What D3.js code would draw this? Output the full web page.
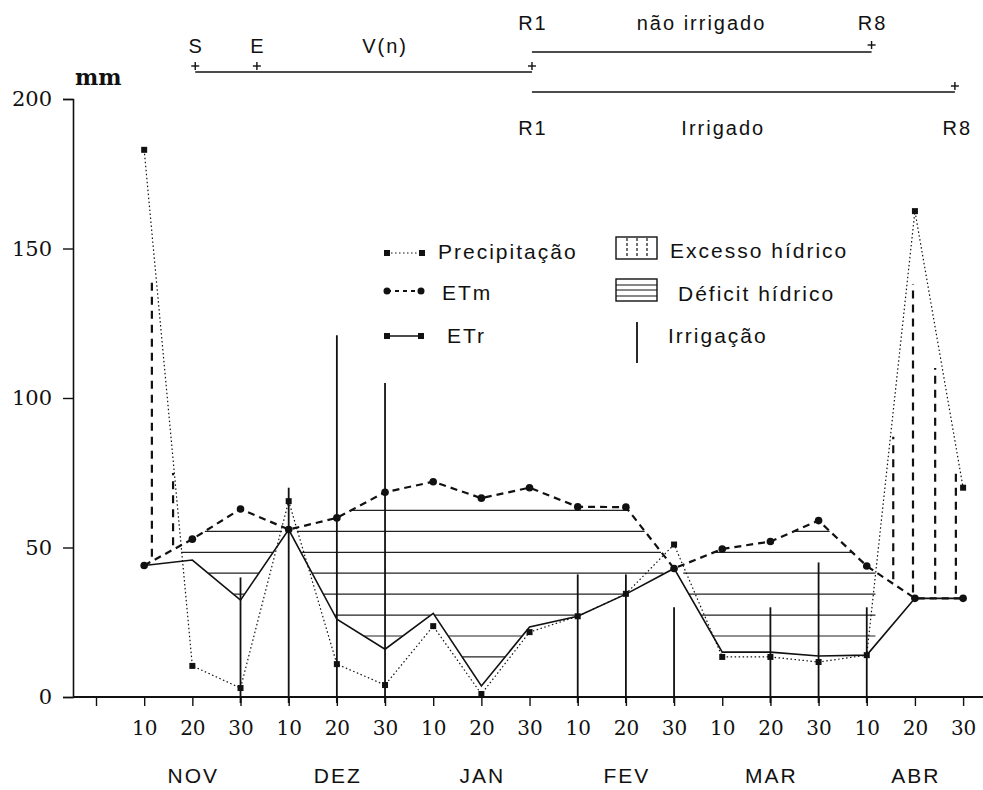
<!DOCTYPE html>
<html>
<head>
<meta charset="utf-8">
<script src="https://cdn.jsdelivr.net/npm/d3@7"></script>
<style>
  body { margin: 0; background: #fff; }
  svg { display: block; }
  .sans { font-family: "Liberation Sans", Arial, sans-serif; letter-spacing: 2px; fill: #111; }
</style>
</head>
<body>
<div id="chart"></div>
<script>
// decendial periods (index 1..18)
const dekadLabels = ["10","20","30","10","20","30","10","20","30","10","20","30","10","20","30","10","20","30"];
const months = ["NOV","DEZ","JAN","FEV","MAR","ABR"];

// mm per decendio
const precipitacao = [183, 10.4, 3, 65.5, 11, 4, 23.7, 1, 21.7, 27, 34.5, 51, 13.4, 13.4, 11.7, 14, 162.5, 70];
const etm = [44, 52.8, 62.9, 56, 59.9, 68.5, 72, 66.5, 70, 63.6, 63.5, 43, 49.5, 52, 59, 43.8, 33, 33];
const etr = [44, 45.8, 32.4, 56, 26, 16, 28, 3.7, 23.4, 27, 34.4, 43, 15, 15, 13.7, 14, 33, 33];

// irrigation depths (dekad index, mm)
const irrigDekad = [3, 4, 5, 6, 10, 11, 12, 14, 15, 16];
const irrigMm = [40, 70, 121, 105, 41, 41, 30, 30, 45, 30];

// hatch positions
const excessoAt = [1.16, 1.6, 16.55, 16.96, 17.42, 17.85];
const deficitLevels = [13.4, 20.4, 27.4, 34.4, 41.4, 48.4, 55.4, 62.4];

const yTicks = [0, 50, 100, 150, 200];

// phenology (dekad index)
const vegMarks = ["S", "E"];
const vegMarkAt = [2.06, 3.34];
const r1At = 9.05;
const r8NaoIrrigadoAt = 16.1;
const r8IrrigadoAt = 17.83;
const vnLabelAt = 5.98;
const naoIrrigadoLabelAt = 12.55;
const irrigadoLabelAt = 13.0;

const width = 983, height = 790;
const ink = "#111";

const svg = d3.select("#chart").append("svg")
  .attr("width", width).attr("height", height);

const x = d3.scaleLinear().domain([0, 18]).range([96, 963.1]);
const y = d3.scaleLinear().domain([0, 200]).range([697, 99]);

function interp(arr, t) {
  const i = Math.max(0, Math.min(arr.length - 2, Math.floor(t - 1)));
  const f = (t - 1) - i;
  return arr[i] + (arr[i + 1] - arr[i]) * f;
}

// ---- deficit hatch (horizontal lines between ETr and ETm)
let segs = [];
deficitLevels.forEach(L => {
  let start = null;
  const n = 1700;
  for (let k = 0; k <= n; k++) {
    const t = 1 + k * 0.01;
    const ok = interp(etr, t) < L && L < interp(etm, t) && interp(precipitacao, t) < interp(etm, t);
    if (ok && start === null) start = t;
    if ((!ok || k === n) && start !== null) {
      segs.push({L: L, t0: start, t1: ok ? t : t - 0.01});
      start = null;
    }
  }
});
svg.append("g").selectAll("line").data(segs).enter().append("line")
  .attr("x1", d => x(d.t0)).attr("x2", d => x(d.t1))
  .attr("y1", d => y(d.L)).attr("y2", d => y(d.L))
  .attr("stroke", "#222").attr("stroke-width", 1.2);

// ---- excess hatch (vertical dashed lines between ETm and precipitation)
svg.append("g").selectAll("line").data(excessoAt).enter().append("line")
  .attr("x1", t => x(t)).attr("x2", t => x(t))
  .attr("y1", t => y(interp(etm, t) + 1.5))
  .attr("y2", t => { const e = interp(etm, t); return y(e + 0.85 * (interp(precipitacao, t) - e)); })
  .attr("stroke", ink).attr("stroke-width", 2.2).attr("stroke-dasharray", "8,6");

// ---- irrigation bars
svg.append("g").selectAll("line").data(irrigDekad).enter().append("line")
  .attr("x1", d => x(d)).attr("x2", d => x(d))
  .attr("y1", y(0) + 6).attr("y2", (d, i) => y(irrigMm[i]))
  .attr("stroke", ink).attr("stroke-width", 1.8);

// ---- axes
let yAxis = svg.append("g")
  .attr("transform", "translate(73,0)")
  .call(d3.axisLeft(y).tickValues(yTicks).tickSize(10).tickPadding(11));
yAxis.select(".domain").attr("stroke", ink).attr("stroke-width", 1.6);
yAxis.selectAll(".tick line").attr("stroke", ink).attr("stroke-width", 1.4);
yAxis.selectAll("text").attr("font-family", "'DejaVu Serif', serif").attr("font-size", 21).attr("fill", ink);

svg.append("line").attr("x1", 73).attr("x2", 983).attr("y1", y(0)).attr("y2", y(0))
  .attr("stroke", ink).attr("stroke-width", 1.8);

let xAxis = svg.append("g")
  .attr("transform", "translate(0," + y(0) + ")")
  .call(d3.axisBottom(x).tickValues(d3.range(0, 19)).tickSize(9)
    .tickFormat(i => i === 0 ? "" : dekadLabels[i - 1]));
xAxis.select(".domain").remove();
xAxis.selectAll(".tick line").attr("stroke", ink).attr("stroke-width", 1.4);
xAxis.selectAll("text")
  .attr("y", 38).attr("dy", 0)
  .attr("font-family", "'DejaVu Serif', serif")
  .attr("font-size", 20).attr("fill", ink);

svg.append("g").selectAll("text").data(months).enter().append("text")
  .attr("class", "sans")
  .attr("x", (d, i) => x(i * 3 + 2) + 1).attr("y", 783)
  .attr("text-anchor", "middle").attr("font-size", 21)
  .text(d => d);

svg.append("text").attr("x", 75).attr("y", 85)
  .attr("font-family", "'DejaVu Serif', serif").attr("font-weight", "bold")
  .attr("font-size", 22).attr("fill", ink).text("mm");

// ---- series
const idx = d3.range(1, 19);
const lineOf = arr => d3.line().x(t => x(t)).y(t => y(arr[t - 1]))(idx);

svg.append("path").attr("d", lineOf(precipitacao))
  .attr("fill", "none").attr("stroke", ink).attr("stroke-width", 1.2)
  .attr("stroke-dasharray", "1.5,2.5");
svg.append("path").attr("d", lineOf(etm))
  .attr("fill", "none").attr("stroke", ink).attr("stroke-width", 2.2)
  .attr("stroke-dasharray", "7,5");
svg.append("path").attr("d", lineOf(etr))
  .attr("fill", "none").attr("stroke", ink).attr("stroke-width", 1.6);

svg.append("g").selectAll("rect").data(idx).enter().append("rect")
  .attr("x", t => x(t) - 3).attr("y", t => y(precipitacao[t - 1]) - 3)
  .attr("width", 6).attr("height", 6).attr("fill", ink);
svg.append("g").selectAll("circle").data(idx).enter().append("circle")
  .attr("cx", t => x(t)).attr("cy", t => y(etm[t - 1]))
  .attr("r", 3.8).attr("fill", ink);

// ---- phenology bars at top
function plus(px, py) {
  svg.append("line").attr("x1", px - 4).attr("x2", px + 4).attr("y1", py).attr("y2", py)
    .attr("stroke", ink).attr("stroke-width", 1.4);
  svg.append("line").attr("x1", px).attr("x2", px).attr("y1", py - 4).attr("y2", py + 4)
    .attr("stroke", ink).attr("stroke-width", 1.4);
}
function hbar(t0, t1, py) {
  svg.append("line").attr("x1", x(t0)).attr("x2", x(t1)).attr("y1", py).attr("y2", py)
    .attr("stroke", ink).attr("stroke-width", 1.6);
}
function label(txt, t, py) {
  svg.append("text").attr("class", "sans").attr("x", x(t) + 1).attr("y", py)
    .attr("text-anchor", "middle").attr("font-size", 20).text(txt);
}

hbar(vegMarkAt[0], r1At, 72);
vegMarkAt.forEach((t, i) => { plus(x(t), 66); label(vegMarks[i], t, 53); });
plus(x(r1At), 66);
label("V(n)", vnLabelAt, 53);

hbar(r1At, r8NaoIrrigadoAt, 52);
plus(x(r8NaoIrrigadoAt), 45);
label("R1", r1At, 30);
label("não irrigado", naoIrrigadoLabelAt, 30);
label("R8", r8NaoIrrigadoAt, 30);

hbar(r1At, r8IrrigadoAt, 92);
plus(x(r8IrrigadoAt), 86);
label("R1", r1At, 135);
label("Irrigado", irrigadoLabelAt, 135);
label("R8", r8IrrigadoAt + 0.03, 135);

// ---- legend
const lg = svg.append("g");
function legText(txt, lx, ly) {
  lg.append("text").attr("class", "sans").attr("x", lx).attr("y", ly)
    .attr("font-size", 21).text(txt);
}
// Precipitação
lg.append("line").attr("x1", 387).attr("x2", 422).attr("y1", 253).attr("y2", 253)
  .attr("stroke", ink).attr("stroke-width", 1.2).attr("stroke-dasharray", "1.5,2.5");
lg.append("rect").attr("x", 384).attr("y", 250).attr("width", 6).attr("height", 6).attr("fill", ink);
lg.append("rect").attr("x", 419).attr("y", 250).attr("width", 6).attr("height", 6).attr("fill", ink);
legText("Precipitação", 438, 259);
// ETm
lg.append("line").attr("x1", 387).attr("x2", 421).attr("y1", 291).attr("y2", 291)
  .attr("stroke", ink).attr("stroke-width", 1.8).attr("stroke-dasharray", "4,4");
lg.append("circle").attr("cx", 387).attr("cy", 291).attr("r", 3.5).attr("fill", ink);
lg.append("circle").attr("cx", 421).attr("cy", 291).attr("r", 3.5).attr("fill", ink);
legText("ETm", 442, 300);
// ETr
lg.append("line").attr("x1", 387).attr("x2", 421).attr("y1", 336).attr("y2", 336)
  .attr("stroke", ink).attr("stroke-width", 1.6);
lg.append("rect").attr("x", 384).attr("y", 333).attr("width", 6).attr("height", 6).attr("fill", ink);
lg.append("rect").attr("x", 418).attr("y", 333).attr("width", 6).attr("height", 6).attr("fill", ink);
legText("ETr", 447, 343);
// Excesso hídrico
lg.append("rect").attr("x", 616).attr("y", 237).attr("width", 41).attr("height", 22)
  .attr("fill", "none").attr("stroke", ink).attr("stroke-width", 1.4);
[627, 637, 647].forEach(px => {
  lg.append("line").attr("x1", px).attr("x2", px).attr("y1", 238).attr("y2", 258)
    .attr("stroke", ink).attr("stroke-width", 1.2).attr("stroke-dasharray", "3,2");
});
legText("Excesso hídrico", 670, 258);
// Déficit hídrico
lg.append("rect").attr("x", 616).attr("y", 279).attr("width", 41).attr("height", 22)
  .attr("fill", "none").attr("stroke", ink).attr("stroke-width", 1.4);
[285, 290, 296].forEach(py => {
  lg.append("line").attr("x1", 616).attr("x2", 657).attr("y1", py).attr("y2", py)
    .attr("stroke", ink).attr("stroke-width", 1);
});
legText("Déficit hídrico", 678, 301);
// Irrigação
lg.append("line").attr("x1", 637).attr("x2", 637).attr("y1", 322).attr("y2", 363)
  .attr("stroke", ink).attr("stroke-width", 1.8);
legText("Irrigação", 668, 343);
</script>
</body>
</html>
